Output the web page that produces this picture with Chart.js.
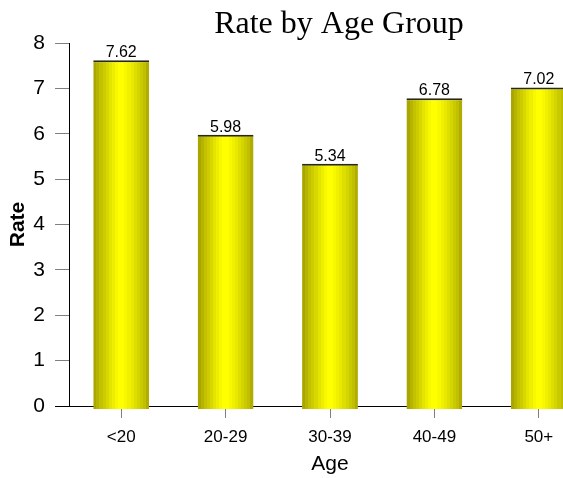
<!DOCTYPE html>
<html>
<head>
<meta charset="utf-8">
<title>Rate by Age Group</title>
<script src="https://cdn.jsdelivr.net/npm/chart.js@4.4.1/dist/chart.umd.min.js"></script>
<style>
  html, body { margin: 0; padding: 0; background: #ffffff; }
  #wrap { width: 563px; height: 478px; overflow: hidden; position: relative; }
  canvas { display: block; }
</style>
</head>
<body>
<div id="wrap"><canvas id="chart" width="620" height="478"></canvas></div>
<script>
// Age groups and their rates
const categories = ['<20', '20-29', '30-39', '40-49', '50+'];
const rates = [7.62, 5.98, 5.34, 6.78, 7.02];
const yTicks = [0, 1, 2, 3, 4, 5, 6, 7, 8];

const TITLE = 'Rate by Age Group';
const SANS = "'Liberation Sans', Arial, sans-serif";
const SERIF = "'Liberation Serif', 'Times New Roman', serif";
const BAR_PCT = 0.535;

// vertical stripes that give each bar its rounded, cylinder-like shading
const STRIPES = ['#aaa600', '#b6b400', '#c2c200', '#cccc00', '#d8d800', '#e4e400', '#eeee00',
                 '#f8f800', '#ffff00', '#ffff00', '#f8f800', '#f0f000', '#e8e800', '#dede00',
                 '#d4d400', '#caca00', '#c0c000', '#b0ac00'];

function barShade(c) {
  const chart = c.chart;
  const xs = chart.scales && chart.scales.x;
  if (!xs || c.dataIndex === undefined || !isFinite(xs.width)) return '#ffff00';
  const cx = xs.getPixelForValue(c.dataIndex);
  const w = xs.width / categories.length * BAR_PCT;
  const g = chart.ctx.createLinearGradient(cx - w / 2, 0, cx + w / 2, 0);
  const n = STRIPES.length;
  STRIPES.forEach((col, i) => {
    g.addColorStop(i / n, col);
    g.addColorStop(Math.min(1, (i + 1) / n - 0.0001), col);
  });
  return g;
}

// chart heading, value labels above bars and the short axis stub left of the y axis
const decorations = {
  id: 'decorations',
  afterDraw(chart) {
    const ctx = chart.ctx;
    const area = chart.chartArea;
    ctx.save();
    ctx.fillStyle = '#000';
    ctx.font = '32px ' + SERIF;
    ctx.textAlign = 'center';
    ctx.textBaseline = 'alphabetic';
    ctx.fillText(TITLE, 339, 33);

    ctx.strokeStyle = '#000';
    ctx.lineWidth = 1;
    ctx.beginPath();
    ctx.moveTo(55, area.bottom + 0.5);
    ctx.lineTo(area.left, area.bottom + 0.5);
    ctx.stroke();
    ctx.restore();
  },
  afterDatasetsDraw(chart) {
    const ctx = chart.ctx;
    const meta = chart.getDatasetMeta(0);
    ctx.save();
    ctx.fillStyle = '#000';
    ctx.font = '16px ' + SANS;
    ctx.textAlign = 'center';
    ctx.textBaseline = 'alphabetic';
    meta.data.forEach((bar, i) => {
      ctx.fillText(rates[i].toFixed(2), bar.x, bar.y - 3);
    });
    ctx.restore();
  }
};

new Chart(document.getElementById('chart'), {
  type: 'bar',
  data: {
    labels: categories,
    datasets: [{
      data: rates,
      base: -0.066,
      clip: false,
      backgroundColor: barShade,
      borderColor: '#2a2a10',
      borderWidth: { top: 2, left: 0, right: 0, bottom: 0 },
      borderSkipped: false,
      categoryPercentage: 1,
      barPercentage: BAR_PCT
    }]
  },
  options: {
    responsive: false,
    animation: false,
    devicePixelRatio: 1,
    layout: { padding: { top: 43, right: 29, bottom: 0, left: 0 } },
    plugins: {
      legend: { display: false },
      title: { display: false },
      tooltip: { enabled: false }
    },
    scales: {
      x: {
        z: 1,
        offset: true,
        afterFit(s) { s.height = 72; },
        grid: {
          offset: false,
          drawOnChartArea: false,
          drawTicks: true,
          tickLength: 12,
          color: '#808080'
        },
        border: { display: true, color: '#000', width: 1 },
        ticks: {
          color: '#000',
          padding: 9,
          font: { family: SANS, size: 17 }
        },
        title: {
          display: true,
          text: 'Age',
          color: '#000',
          font: { family: SANS, size: 21 },
          padding: { top: 0, bottom: 1 }
        }
      },
      y: {
        z: 1,
        min: 0,
        max: 8,
        afterFit(s) { s.width = 69; },
        afterBuildTicks(s) { s.ticks = yTicks.map(v => ({ value: v })); },
        grid: {
          drawOnChartArea: false,
          drawTicks: true,
          tickLength: 14,
          color: '#808080'
        },
        border: { display: true, color: '#000', width: 1 },
        ticks: {
          color: '#000',
          padding: 10,
          font: { family: SANS, size: 21 }
        },
        title: {
          display: true,
          text: 'Rate',
          color: '#000',
          font: { family: SANS, size: 21, weight: 'bold' },
          padding: { top: 6, bottom: 0 }
        }
      }
    }
  },
  plugins: [decorations]
});
</script>
</body>
</html>
